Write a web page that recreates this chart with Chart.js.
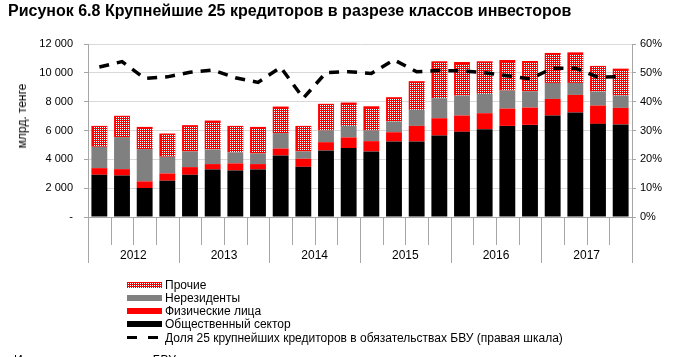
<!DOCTYPE html>
<html><head><meta charset="utf-8">
<script src="https://cdn.jsdelivr.net/npm/chart.js@4/dist/chart.umd.min.js"></script>
<style>
html,body{margin:0;padding:0;background:#fff;width:685px;height:357px;overflow:hidden;font-family:"Liberation Sans",Arial,sans-serif;}
#wrap{position:relative;width:685px;height:357px;}
#c{position:absolute;left:0;top:0;}
.t{position:absolute;white-space:nowrap;color:#000;}
#title{left:8px;top:2px;font-weight:bold;font-size:16px;}
#ytitle{left:22px;top:116px;font-size:12px;transform:translate(-50%,-50%) rotate(-90deg);}
.lg{position:absolute;left:127px;font-size:12px;height:14px;line-height:14px;}
.lg .sw{position:absolute;left:0;top:4px;width:35px;height:6px;}
.lg span{position:absolute;left:38px;top:0;white-space:nowrap;}
#src{left:14px;top:353px;font-size:12px;}
</style></head>
<body><div id="wrap">
<canvas id="c" width="685" height="357"></canvas>
<div class="t" id="title">Рисунок 6.8 Крупнейшие 25 кредиторов в разрезе классов инвесторов</div>
<div class="t" id="ytitle">млрд. тенге</div>
<div class="lg" style="top:278px"><canvas class="sw" id="swp" width="35" height="6"></canvas><span>Прочие</span></div>
<div class="lg" style="top:291px"><div class="sw" style="background:#808080"></div><span>Нерезиденты</span></div>
<div class="lg" style="top:304px"><div class="sw" style="background:#ff0000"></div><span>Физические лица</span></div>
<div class="lg" style="top:317px"><div class="sw" style="background:#000"></div><span>Общественный сектор</span></div>
<div class="lg" style="top:331px"><div class="sw" style="background:none"><div style="position:absolute;left:0;top:1px;width:10px;height:3px;background:#000"></div><div style="position:absolute;left:21px;top:1px;width:10px;height:3px;background:#000"></div></div><span>Доля 25 крупнейших кредиторов в обязательствах БВУ (правая шкала)</span></div>
<div class="t" id="src">Источник: отчетность по БВУ</div>
</div>
<script>
const years = ['2012','2013','2014','2015','2016','2017'];
const categories = [];
years.forEach(y => { ['I','II','III','IV'].forEach(q => categories.push(q + ' кв. ' + y)); });

const publicSector = [2930,2880,2010,2520,2930,3300,3230,3300,4270,3480,4620,4780,4550,5240,5240,5650,5910,6090,6320,6390,7040,7250,6460,6420];
const individuals  = [460,440,460,500,530,370,490,370,480,560,570,740,710,640,1080,1200,1130,1110,1200,1200,1150,1220,1270,1150];
const nonResidents = [1480,2220,2240,1160,1090,1010,760,740,1070,510,810,800,740,740,1110,1390,1380,1340,1250,1130,1110,830,970,850];
const others       = [1450,1480,1540,1610,1820,2010,1840,1840,1840,1770,1850,1620,1680,1690,1990,2560,2330,2260,2120,2100,2080,2120,1780,1870];
const top25Share   = [52.0,53.9,48.1,48.6,50.2,51.0,48.3,46.7,51.9,41.2,50.1,50.4,49.8,54.5,50.4,50.8,50.7,50.0,49.0,47.9,51.6,51.6,48.5,48.7];
const leftTicks = [0,2000,4000,6000,8000,10000,12000];

// white 1px dots on a 2px grid, phase fixed in page coordinates (x even, y odd)
function dotRect(c,x0,y0,x1,y1,ox,oy){
  c.fillStyle='#ffffff';
  let sx=Math.ceil(x0)+1; while(((sx+ox)%2+2)%2!==0) sx++;
  let sy=Math.ceil(y0)+1; while(((sy+oy)%2+2)%2!==1) sy++;
  for(let y=sy;y<y1-0.5;y+=2){for(let x=sx;x<x1-0.5;x+=2){c.fillRect(x,y,1,1);}}
}
const sw=document.getElementById('swp').getContext('2d');
sw.fillStyle='#ff0000';sw.fillRect(0,0,35,6);dotRect(sw,-1,-1,35,6,127,282);

const ctx=document.getElementById('c').getContext('2d');
const fmt = v => v===0 ? '-' : String(v).replace(/\B(?=(\d{3})+(?!\d))/g,' ');
const AX='#a6a6a6';

const dotsPlugin={id:'dotsPlugin',afterDatasetDraw(chart,args){
  if(args.index!==4)return;
  const c=chart.ctx;c.save();
  args.meta.data.forEach(el=>{
    const p=el.getProps(['x','y','base','width'],true);
    const l=p.x-p.width/2,r=p.x+p.width/2,t=Math.min(p.y,p.base),b=Math.max(p.y,p.base);
    dotRect(c,l,t,r,b,0,0);
  });
  c.restore();
}};

const axisPlugin={id:'axisPlugin',afterDraw(chart){
  const c=chart.ctx,a=chart.chartArea,xs=chart.scales.x,n=categories.length;
  const bnd=i=> i===0?a.left:(i===n?a.right:(xs.getPixelForValue(i-1)+xs.getPixelForValue(i))/2);
  c.save();c.strokeStyle=AX;c.lineWidth=1;
  for(let i=0;i<=n;i++){const x=Math.round(bnd(i))+0.5;const len=(i%4===0)?46:28;
    c.beginPath();c.moveTo(x,a.bottom);c.lineTo(x,a.bottom+len);c.stroke();}
  c.fillStyle='#000';c.font='12px "Liberation Sans", Arial, sans-serif';c.textAlign='center';c.textBaseline='middle';
  years.forEach((y,k)=>{c.fillText(y,(bnd(4*k)+bnd(4*k+4))/2,256);});
  c.restore();
}};

new Chart(ctx,{
  data:{labels:categories,datasets:[
    {type:'line',label:'Доля 25 крупнейших кредиторов в обязательствах БВУ (правая шкала)',data:top25Share,yAxisID:'y1',borderColor:'#000',borderWidth:3.5,borderDash:[10,8],pointRadius:0,fill:false,tension:0,order:0},
    {type:'bar',label:'Общественный сектор',data:publicSector,backgroundColor:'#000',yAxisID:'y',stack:'s',order:1},
    {type:'bar',label:'Физические лица',data:individuals,backgroundColor:'#ff0000',yAxisID:'y',stack:'s',order:1},
    {type:'bar',label:'Нерезиденты',data:nonResidents,backgroundColor:'#808080',yAxisID:'y',stack:'s',order:1},
    {type:'bar',label:'Прочие',data:others,backgroundColor:'#ff0000',yAxisID:'y',stack:'s',order:1}
  ]},
  options:{responsive:false,animation:false,
    layout:{padding:{top:44,left:0,right:0,bottom:0}},
    datasets:{bar:{barPercentage:0.7,categoryPercentage:1}},
    plugins:{legend:{display:false},tooltip:{enabled:false}},
    scales:{
      x:{stacked:true,offset:true,grid:{display:false},ticks:{display:false},border:{color:AX},afterFit(s){s.height=140;}},
      y:{stacked:true,min:0,max:12000,afterBuildTicks(s){s.ticks=leftTicks.map(v=>({value:v}));},
         ticks:{callback:fmt,color:'#000',font:{size:11,family:'"Liberation Sans", Arial, sans-serif'},padding:11},
         grid:{color:'#d9d9d9',tickLength:4,tickColor:AX},border:{color:AX},afterFit(s){s.width=88;}},
      y1:{position:'right',min:0,max:60,ticks:{stepSize:10,callback:v=>v+'%',color:'#000',font:{size:11,family:'"Liberation Sans", Arial, sans-serif'},padding:4},
         grid:{drawOnChartArea:false,tickLength:4,tickColor:AX},border:{color:AX},afterFit(s){s.width=53;}}
    }
  },
  plugins:[dotsPlugin,axisPlugin]
});
</script>
</body></html>
